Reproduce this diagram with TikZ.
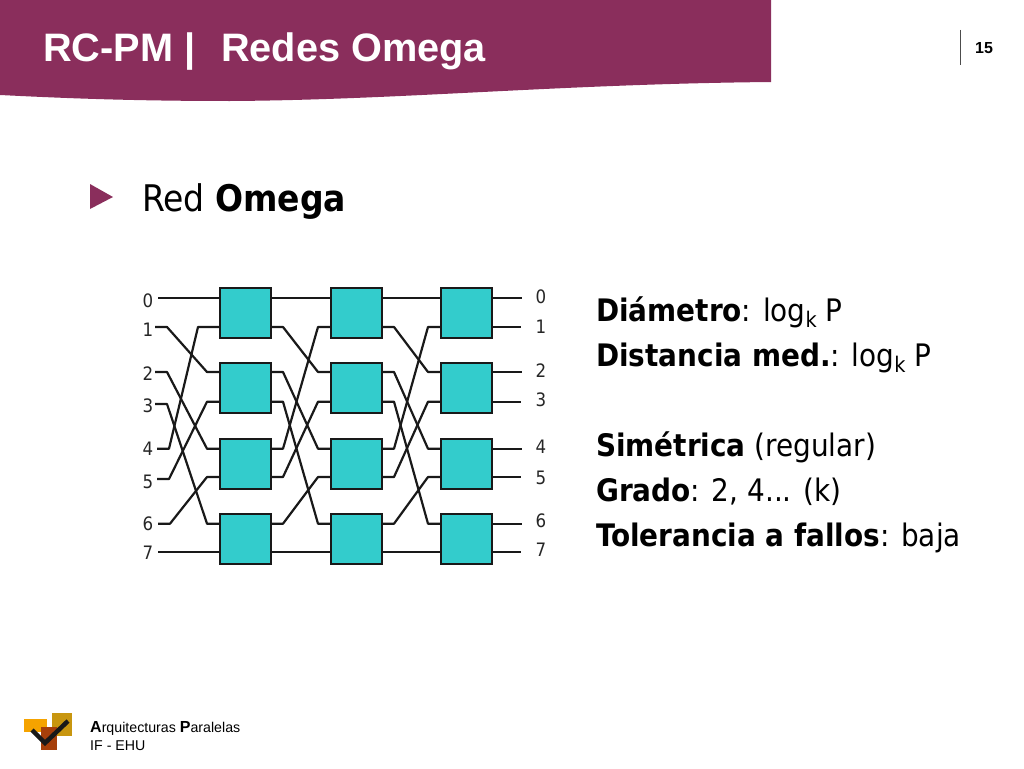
\documentclass[tikz,border=0pt]{standalone}
\usepackage{fontspec}
\setmainfont{DejaVu Sans Condensed}[BoldFont={DejaVu Sans Condensed Bold}]
\newfontfamily\arial{Liberation Sans}
\definecolor{plum}{HTML}{8A2E5C}
\definecolor{teal}{HTML}{33CCCC}
\definecolor{logoorange}{HTML}{F5A300}
\definecolor{logogold}{HTML}{C8960F}
\definecolor{logorust}{HTML}{A63F0A}
\newcommand{\fs}[1]{\fontsize{#1}{#1}\selectfont}
\newcommand{\subk}{\raisebox{-0.22em}{\fs{21.5}k}}
\newcommand{\wire}[3][13]{\draw[wire] (#2) -- ++(12,0) -- ([xshift=-#1pt]#3) -- (#3);}
\tikzset{
  sw/.style={draw=black!90,line width=2.4pt,fill=teal,minimum width=51pt,minimum height=50pt,inner sep=0pt,outer sep=0pt},
  wire/.style={draw=black!90,line width=2.2pt,line join=round},
  num/.style={font=\fs{18.5},text=black!85,inner sep=0pt,anchor=center},
  body/.style={font=\fs{31},text=black,inner sep=0pt,anchor=base west},
  titletext/.style={font=\arial\bfseries\fs{39.7},text=white,inner sep=0pt,anchor=base west},
  foot/.style={font=\arial\fs{14.2},text=black,inner sep=0pt,anchor=base west}
}
\begin{document}
\begin{tikzpicture}[x=1pt,y=-1pt]
\useasboundingbox (0,0) rectangle (1024,768);
% header band
\fill[plum] (0,0) -- (771,0) -- (771,82) .. controls (560,84) and (400,100) .. (230,101) .. controls (130,101) and (60,98) .. (0,95) -- cycle;
\node[titletext] (title) at (43,62) {RC-PM};
\node[titletext] (bar) at (184.5,62) {|};
\node[titletext] (title2) at (221,62) {Redes Omega};
\draw[black!70,line width=1pt] (960,30) -- (960,65);
\node[font=\arial\bfseries\fs{16},inner sep=0pt] (page) at (984,48) {15};
% bullet
\fill[plum] (90,184) -- (113,197) -- (90,209) -- cycle;
\node[font=\fs{36.7},inner sep=0pt,anchor=base west] (bullet) at (142,211) {Red \textbf{Omega}};
% switches
\foreach \c/\x in {1/245.5,2/356.5,3/466.5}{
  \foreach \r/\y/\u/\l in {1/313/298/327,2/388/372/401.7,3/464/448.7/477,4/539/523.7/552}{
    \node[sw] (b\c\r) at (\x,\y) {};
    \coordinate (b\c\r iu) at (\x-25.5,\u);
    \coordinate (b\c\r il) at (\x-25.5,\l);
    \coordinate (b\c\r ou) at (\x+25.5,\u);
    \coordinate (b\c\r ol) at (\x+25.5,\l);
  }
}
% input labels and ends
\foreach \n/\ly/\ex/\ey in {0/301/158/298,1/330/155/327,2/374/155/372,3/406/155/404,4/449/157/448.7,5/482/157/479,6/524/158/523.7,7/553/158/552}{
  \node[num] (in\n) at (148,\ly) {\n};
  \coordinate (e\n) at (\ex,\ey);
}
% output labels and ends
\foreach \n/\ly/\ey/\ex in {0/297/298/522,1/327/327/521,2/371/372/522,3/400/401.7/521,4/447/448.7/522,5/478/477/521,6/521/523.7/522,7/550/552/521}{
  \node[num] (out\n) at (541,\ly) {\n};
  \coordinate (o\n) at (\ex,\ey);
}
% first stage
\draw[wire] (e0) -- (b11iu);
\wire{e1}{b12iu}
\wire{e2}{b13iu}
\wire{e3}{b14iu}
\wire[22]{e4}{b11il}
\wire{e5}{b12il}
\wire{e6}{b13il}
\draw[wire] (e7) -- (b14il);
% second and third stages
\foreach \p/\q in {1/2,2/3}{
  \draw[wire] (b\p1ou) -- (b\q1iu);
  \wire{b\p1ol}{b\q2iu}
  \wire{b\p2ou}{b\q3iu}
  \wire{b\p2ol}{b\q4iu}
  \wire{b\p3ou}{b\q1il}
  \wire{b\p3ol}{b\q2il}
  \wire{b\p4ou}{b\q3il}
  \draw[wire] (b\p4ol) -- (b\q4il);
}
% outputs
\draw[wire] (b31ou) -- (o0);
\draw[wire] (b31ol) -- (o1);
\draw[wire] (b32ou) -- (o2);
\draw[wire] (b32ol) -- (o3);
\draw[wire] (b33ou) -- (o4);
\draw[wire] (b33ol) -- (o5);
\draw[wire] (b34ou) -- (o6);
\draw[wire] (b34ol) -- (o7);
% right text
\node[body] (t1) at (596,321) {\textbf{Diámetro}: log\subk{} P};
\node[body] (t2) at (596,366) {\textbf{Distancia med.}: log\subk{} P};
\node[body] (t3) at (596,456) {\textbf{Simétrica} (regular)};
\node[body] (t4) at (596,501) {\textbf{Grado}: 2, 4... (k)};
\node[body] (t5) at (596,546) {\textbf{Tolerancia a fallos}: baja};
% logo
\fill[logogold] (52,713) rectangle (72,736);
\fill[logoorange] (24,719) rectangle (47,732);
\fill[logorust] (41,727) rectangle (57,750);
\draw[black!90,line width=4.5pt,line join=miter] (32,730) -- (45,743) -- (68,721);
\node[foot] (f1) at (90,732) {\textbf{\fs{16}A}rquitecturas \textbf{\fs{16}P}aralelas};
\node[foot] (f2) at (90,750) {IF - EHU};
\end{tikzpicture}
\end{document}
